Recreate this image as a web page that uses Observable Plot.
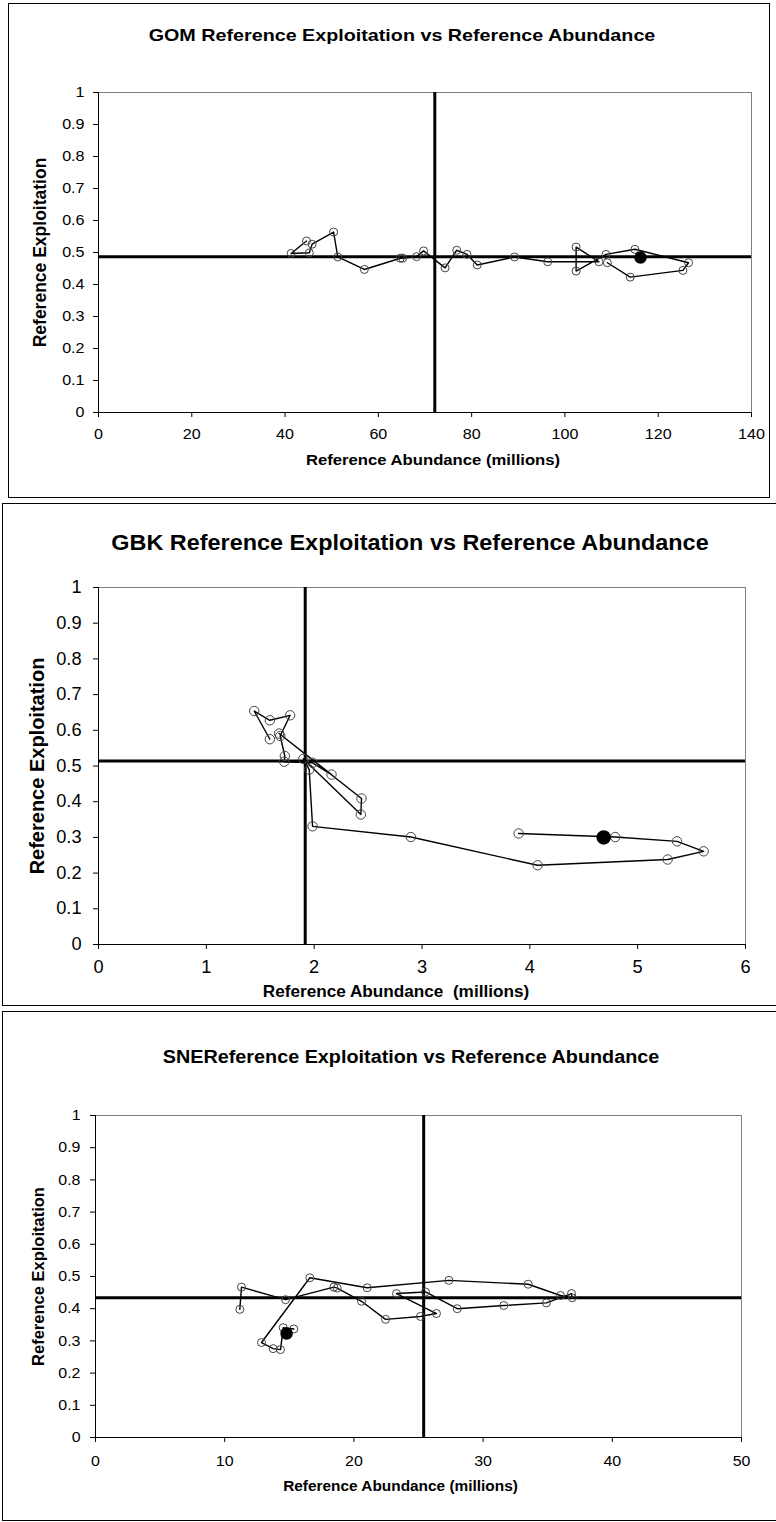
<!DOCTYPE html>
<html><head><meta charset="utf-8">
<script src="https://cdn.jsdelivr.net/npm/d3@7"></script>
<script src="https://cdn.jsdelivr.net/npm/@observablehq/plot@0.6"></script>
<style>
body{margin:0;background:#fff;font-family:"Liberation Sans",Arial,sans-serif;}
#page{position:relative;width:776px;height:1522px;overflow:hidden;background:#fff;}
.panel{position:absolute;border:1px solid #000;box-sizing:border-box;}
.title{position:absolute;font-weight:bold;white-space:nowrap;line-height:1;color:#000;}
.chart{position:absolute;left:0;}
</style></head><body><div id="page"></div>
<script>
// ---------- shared ----------
const yTicks = [0, 0.1, 0.2, 0.3, 0.4, 0.5, 0.6, 0.7, 0.8, 0.9, 1];
const yLabel = "Reference Exploitation";

// ---------- GOM ----------
const gomTitle = "GOM Reference Exploitation vs Reference Abundance";
const gomXLabel = "Reference Abundance (millions)";
const gomXTicks = [0, 20, 40, 60, 80, 100, 120, 140];
const gomAbundance = [44.6, 41.3, 45.2, 45.8, 50.4, 51.3, 57.0, 64.7, 65.2, 68.2, 69.7, 74.3, 76.8, 79.0, 81.2, 89.2, 96.3, 107.3, 102.4, 102.4, 108.8, 115.0, 126.5, 125.3, 114.0, 109.1];
const gomExploitation = [0.536, 0.497, 0.499, 0.526, 0.564, 0.486, 0.447, 0.482, 0.482, 0.487, 0.505, 0.452, 0.507, 0.494, 0.461, 0.486, 0.471, 0.471, 0.517, 0.442, 0.494, 0.510, 0.468, 0.444, 0.423, 0.468];
const gomLastAbundance = [116.2];
const gomLastExploitation = [0.484];
const gomRefAbundance = 72.1;
const gomRefExploitation = 0.487;

// ---------- GBK ----------
const gbkTitle = "GBK Reference Exploitation vs Reference Abundance";
const gbkXLabel = "Reference Abundance  (millions)";
const gbkXTicks = [0, 1, 2, 3, 4, 5, 6];
const gbkAbundance = [1.589, 1.444, 1.589, 1.777, 1.685, 1.728, 1.722, 1.985, 2.161, 1.675, 2.439, 2.433, 1.900, 1.954, 1.985, 2.897, 4.072, 5.278, 5.612, 5.365, 4.792, 3.896];
const gbkExploitation = [0.575, 0.654, 0.628, 0.642, 0.584, 0.528, 0.512, 0.509, 0.476, 0.591, 0.409, 0.364, 0.520, 0.490, 0.331, 0.301, 0.222, 0.238, 0.261, 0.289, 0.301, 0.311];
const gbkLastAbundance = [4.685];
const gbkLastExploitation = [0.300];
const gbkRefAbundance = 1.917;
const gbkRefExploitation = 0.514;

// ---------- SNE ----------
const sneTitle = "SNEReference Exploitation vs Reference Abundance";
const sneXLabel = "Reference Abundance (millions)";
const sneXTicks = [0, 10, 20, 30, 40, 50];
const sneAbundance = [11.17, 11.30, 14.71, 18.45, 18.71, 20.59, 22.45, 25.15, 26.39, 23.30, 25.54, 28.0, 31.6, 34.9, 36.84, 36.9, 35.99, 33.49, 27.35, 21.03, 16.59, 12.85, 13.75, 14.32, 14.53, 15.35];
const sneExploitation = [0.398, 0.467, 0.428, 0.467, 0.464, 0.423, 0.367, 0.376, 0.385, 0.447, 0.452, 0.400, 0.410, 0.418, 0.447, 0.434, 0.441, 0.476, 0.488, 0.465, 0.496, 0.295, 0.276, 0.273, 0.341, 0.337];
const sneLastAbundance = [14.79];
const sneLastExploitation = [0.323];
const sneRefAbundance = 25.4;
const sneRefExploitation = 0.434;

// ---------- drawing ----------
const page = document.getElementById("page");
const FONT = '"Liberation Sans", Arial, sans-serif';

function addPanel(box) {
  const d = document.createElement("div");
  d.className = "panel";
  Object.assign(d.style, {left: box[0] + "px", top: box[1] + "px", width: box[2] + "px", height: box[3] + "px"});
  page.appendChild(d);
}
function addTitle(text, cx, cy, size, stretch) {
  const t = document.createElement("div");
  t.className = "title";
  t.textContent = text;
  Object.assign(t.style, {left: cx + "px", top: cy + "px", fontSize: size + "px",
    transform: `translate(-50%,-50%) scaleX(${stretch})`});
  page.appendChild(t);
}

function drawChart(c) {
  const data = c.xs.map((x, i) => ({x, y: c.ys[i]}));
  const last = c.lastX.map((x, i) => ({x, y: c.lastY[i]}));
  const svg = Plot.plot({
    width: 776,
    height: c.h,
    marginTop: c.mt, marginBottom: c.mb, marginLeft: c.ml, marginRight: c.mr,
    style: {fontFamily: FONT, fontSize: c.tickFont + "px", color: "#000", background: "transparent", overflow: "visible"},
    x: {domain: c.xDomain},
    y: {domain: [0, 1]},
    marks: [
      Plot.frame({stroke: "#808080", strokeWidth: 1}),
      Plot.ruleX([c.xDomain[0]], {stroke: "#000", strokeWidth: 1}),
      Plot.ruleY([0], {stroke: "#000", strokeWidth: 1}),
      Plot.axisX({ticks: c.xTicks, tickSize: 5, tickPadding: c.xPad, label: null, tickFormat: d => String(d)}),
      Plot.axisY({ticks: yTicks, tickSize: 5, tickPadding: c.yPad, label: null, tickFormat: d => String(+d.toFixed(1))}),
      Plot.ruleX([c.refX], {stroke: "#000", strokeWidth: 3}),
      Plot.ruleY([c.refY], {stroke: "#000", strokeWidth: 3}),
      Plot.line(data, {x: "x", y: "y", stroke: "#000", strokeWidth: 1.4}),
      Plot.dot(data, {x: "x", y: "y", r: c.r, stroke: "#444", strokeWidth: 1, fill: "none"}),
      Plot.dot(last, {x: "x", y: "y", r: c.rLast, fill: "#000", stroke: "#000"}),
      Plot.text([c.xLabel], {text: d => d, frameAnchor: "bottom", textAnchor: "middle", dy: c.xLabelDy, dx: c.xLabelDx, fontWeight: "bold", fontSize: c.xLabelFont, fill: "#000"}),
      Plot.text([yLabel], {text: d => d, frameAnchor: "left", textAnchor: "middle", dx: c.yLabelDx, rotate: -90, fontWeight: "bold", fontSize: c.yLabelFont, fill: "#000"})
    ]
  });
  svg.classList.add("chart");
  svg.style.top = c.top + "px";
  svg.style.position = "absolute";
  page.appendChild(svg);
  // horizontal stretch of the (non-rotated) texts, as in the reference
  if (c.stretch !== 1) {
    for (const t of svg.querySelectorAll("text")) {
      if (t.textContent === yLabel) continue;
      const L = t.getComputedTextLength();
      if (L > 0) {
        t.setAttribute("textLength", (L * c.stretch).toFixed(2));
        t.setAttribute("lengthAdjust", "spacingAndGlyphs");
      }
    }
  }
}

// Panel borders
addPanel([8, 3, 762, 495]);
addPanel([2, 503, 790, 503]);
addPanel([2, 1011, 790, 510]);

// Titles
addTitle(gomTitle, 402, 35, 17, 1.16);
addTitle(gbkTitle, 410, 543, 22.5, 1.04);
addTitle(sneTitle, 411, 1057, 18, 1.1);

drawChart({
  top: 80, h: 420, mt: 12, mb: 88, ml: 98, mr: 25,
  xDomain: [0, 140], xTicks: gomXTicks,
  xs: gomAbundance, ys: gomExploitation, lastX: gomLastAbundance, lastY: gomLastExploitation,
  refX: gomRefAbundance, refY: gomRefExploitation,
  tickFont: 14, stretch: 1.15, xPad: 12, yPad: 9, r: 4, rLast: 5.5,
  xLabel: gomXLabel, xLabelDy: 52, xLabelDx: 8, xLabelFont: 14.5,
  yLabelDx: -58, yLabelFont: 17.5
});

drawChart({
  top: 575, h: 430, mt: 12, mb: 61, ml: 98, mr: 31,
  xDomain: [0, 6], xTicks: gbkXTicks,
  xs: gbkAbundance, ys: gbkExploitation, lastX: gbkLastAbundance, lastY: gbkLastExploitation,
  refX: gbkRefAbundance, refY: gbkRefExploitation,
  tickFont: 17.5, stretch: 1.04, xPad: 11, yPad: 12, r: 4.7, rLast: 6.5,
  xLabel: gbkXLabel, xLabelDy: 52, xLabelDx: -26, xLabelFont: 16.5,
  yLabelDx: -61, yLabelFont: 20
});

drawChart({
  top: 1103, h: 410, mt: 12, mb: 76, ml: 95, mr: 35,
  xDomain: [0, 50], xTicks: sneXTicks,
  xs: sneAbundance, ys: sneExploitation, lastX: sneLastAbundance, lastY: sneLastExploitation,
  refX: sneRefAbundance, refY: sneRefExploitation,
  tickFont: 14.5, stretch: 1.1, xPad: 13, yPad: 10, r: 4, rLast: 5.5,
  xLabel: sneXLabel, xLabelDy: 53, xLabelDx: -18, xLabelFont: 14,
  yLabelDx: -57, yLabelFont: 16.5
});
</script>
</body></html>
